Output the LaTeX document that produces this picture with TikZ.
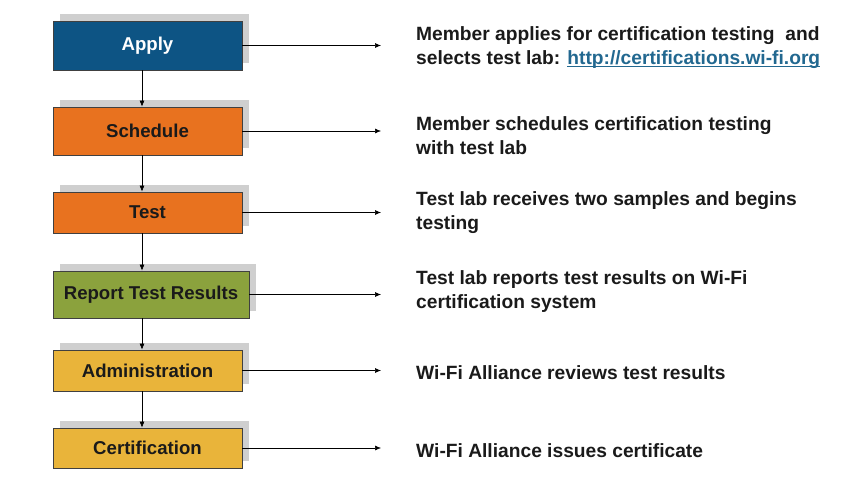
\documentclass[tikz,border=0pt]{standalone}
\usepackage{fontspec}
\setmainfont{Liberation Sans}
\usepackage{tikz}
\usetikzlibrary{calc,positioning,arrows.meta,shadows}

\definecolor{wfblue}{HTML}{0D5484}
\definecolor{wforange}{HTML}{E8721F}
\definecolor{wfgreen}{HTML}{8BA23D}
\definecolor{wfyellow}{HTML}{E9B43A}
\definecolor{wfshadow}{HTML}{CFCFCF}
\definecolor{wflink}{HTML}{226890}
\definecolor{wftext}{HTML}{1A1A1A}

% underline that sits close to the baseline
\newcommand\linkline[1]{\setbox0\hbox{#1}\rlap{\rule[-2.4pt]{\wd0}{0.9pt}}\box0}

\begin{document}
\begin{tikzpicture}[x=1pt,y=-1pt,
  stage/.style={draw=black!75,line width=0.8pt,minimum width=189pt,inner sep=0pt,text=wftext,
    font=\fontsize{18.6}{22}\selectfont\bfseries,
    drop shadow={shadow xshift=7pt,shadow yshift=7pt,fill=wfshadow,opacity=1}},
  desc/.style={anchor=west,align=left,inner sep=2pt,text=wftext,font=\fontsize{19.2}{24}\selectfont\bfseries},
  flow/.style={-{Latex[length=6pt,width=5pt]},line width=0.6pt}]
  \useasboundingbox (0,0) rectangle (854,477);

  \node[stage,fill=wfblue,text=white,minimum height=49pt] (apply) at (147.5,45.5) {Apply};
  \node[stage,fill=wforange,minimum height=48pt] (schedule) at (147.5,131) {Schedule};
  \node[stage,fill=wforange,minimum height=41pt] (test) at (147.5,212.5) {Test};
  \node[stage,fill=wfgreen,minimum width=196pt,minimum height=47pt] (report) at (151,294.5) {Report Test Results};
  \node[stage,fill=wfyellow,minimum height=41pt] (admin) at (147.5,370.5) {Administration};
  \node[stage,fill=wfyellow,minimum height=40pt] (cert) at (147.5,448) {Certification};

  \node[desc] (dapply) at (414,47.5) {Member applies for certification testing\ \ and\\
    selects test lab: \textcolor{wflink}{\linkline{http://certifications.wi-fi.org}}};
  \node[desc] (dschedule) at (414,136) {Member schedules certification testing\\with test lab};
  \node[desc] (dtest) at (414,213) {Test lab receives two samples and begins\\testing};
  \node[desc] (dreport) at (414,292) {Test lab reports test results on Wi-Fi\\certification system};
  \node[desc] (dadmin) at (414,373) {Wi-Fi Alliance reviews test results};
  \node[desc] (dcert) at (414,451) {Wi-Fi Alliance issues certificate};

  \coordinate (spine) at ([xshift=-5.5pt]cert.north);
  \coordinate (tip) at (381,0);
  \foreach \a/\b in {apply/schedule,schedule/test,test/report,report/admin,admin/cert}
    \draw[flow] (spine |- \a.south) -- (spine |- \b.north);
  \foreach \n in {apply,schedule,test,report,admin,cert}
    \draw[flow] (\n.east) -- (\n.east -| tip);
\end{tikzpicture}
\end{document}
